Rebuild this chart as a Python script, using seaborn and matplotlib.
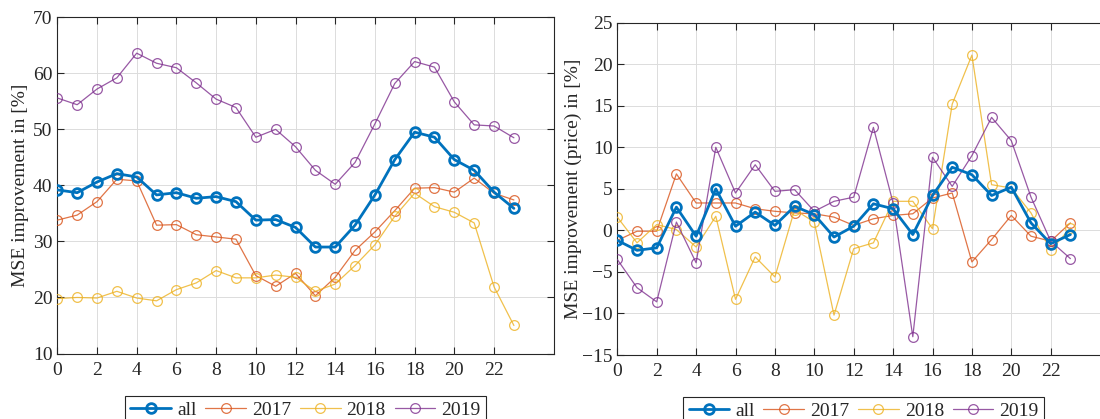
import matplotlib
matplotlib.use("Agg")
import matplotlib.pyplot as plt
import seaborn as sns
import pandas as pd

hours = list(range(24))
series_names = ["all", "2017", "2018", "2019"]
x_ticks = list(range(0, 23, 2))

mse_all = [39.2, 38.7, 40.6, 42.1, 41.5, 38.3, 38.7, 37.7, 38.0, 37.1, 33.8, 33.9,
           32.5, 29.0, 29.0, 32.9, 38.3, 44.6, 49.5, 48.6, 44.6, 42.7, 38.8, 35.9]
mse_2017 = [33.8, 34.7, 37.1, 41.1, 40.8, 32.9, 33.0, 31.2, 30.8, 30.4, 23.9, 22.0,
            24.3, 20.3, 23.6, 28.4, 31.7, 35.5, 39.5, 39.6, 38.8, 41.3, 38.6, 37.4]
mse_2018 = [19.8, 20.0, 19.9, 21.1, 19.9, 19.4, 21.4, 22.6, 24.8, 23.5, 23.5, 24.0,
            23.6, 21.1, 22.4, 25.7, 29.4, 34.5, 38.6, 36.2, 35.2, 33.3, 21.9, 15.0]
mse_2019 = [55.6, 54.4, 57.2, 59.2, 63.6, 61.8, 61.0, 58.3, 55.4, 53.9, 48.6, 50.0,
            46.9, 42.7, 40.2, 44.1, 51.0, 58.2, 62.1, 61.1, 54.9, 50.8, 50.6, 48.5]

price_all = [-1.2, -2.4, -2.1, 2.8, -0.7, 5.0, 0.5, 2.2, 0.6, 2.9, 1.9, -0.8,
             0.5, 3.2, 2.6, -0.5, 4.2, 7.6, 6.7, 4.2, 5.2, 0.9, -1.6, -0.5]
price_2017 = [-1.2, -0.1, -0.1, 6.8, 3.3, 3.3, 3.3, 2.6, 2.3, 2.1, 2.0, 1.6,
              0.6, 1.4, 1.8, 2.0, 3.9, 4.5, -3.8, -1.1, 1.8, -0.7, -1.3, 0.9]
price_2018 = [1.6, -1.5, 0.7, 0.1, -2.0, 1.7, -8.3, -3.2, -5.6, 2.5, 1.0, -10.2,
              -2.2, -1.5, 3.5, 3.5, 0.2, 15.2, 21.1, 5.5, 5.1, 2.1, -2.4, 0.3]
price_2019 = [-3.5, -6.9, -8.6, 1.0, -3.9, 10.0, 4.5, 7.9, 4.7, 4.9, 2.3, 3.5,
              4.0, 12.4, 3.3, -12.8, 8.8, 5.3, 9.0, 13.6, 10.8, 4.0, -1.3, -3.4]

colors = {"all": "#0072BD", "2017": "#D95319", "2018": "#EDB120", "2019": "#7E2F8E"}
ink = "#262626"

sns.set_style("ticks")
plt.rcParams["font.family"] = ["Liberation Serif", "DejaVu Serif"]
plt.rcParams["text.color"] = ink
plt.rcParams["axes.labelcolor"] = ink
plt.rcParams["xtick.color"] = ink
plt.rcParams["ytick.color"] = ink

W, H = 1100, 419
fig = plt.figure(figsize=(W / 100, H / 100), dpi=100)
ax1 = fig.add_axes([57.3 / W, 1 - 353.5 / H, 496.3 / W, 336.2 / H])
ax2 = fig.add_axes([617.3 / W, 1 - 355.0 / H, 492.5 / W, 332.3 / H])

panels = [
    (ax1, [mse_all, mse_2017, mse_2018, mse_2019], (10, 70), range(10, 71, 10),
     "MSE improvement in [%]", -0.058),
    (ax2, [price_all, price_2017, price_2018, price_2019], (-15, 25), range(-15, 26, 5),
     "MSE improvement (price) in [%]", -0.071),
]

for ax, data, ylim, yticks, ylabel, lx in panels:
    for name, vals in zip(series_names, data):
        c = colors[name]
        is_all = name == "all"
        df = pd.DataFrame({"hour": hours, "val": vals})
        sns.lineplot(data=df, x="hour", y="val", ax=ax, color=c,
                     linewidth=2.0 if is_all else 0.9,
                     marker="o", markersize=7,
                     markerfacecolor="none", markeredgecolor=c,
                     markeredgewidth=2.0 if is_all else 0.9,
                     alpha=1.0 if is_all else 0.8,
                     label=name, zorder=5 if is_all else 3)
    ax.set_xlim(0, 25)
    ax.set_ylim(*ylim)
    ax.set_xticks(x_ticks)
    ax.set_yticks(list(yticks))
    ax.grid(True, color="#dcdcdc", linewidth=0.7)
    ax.set_axisbelow(True)
    for sp in ax.spines.values():
        sp.set_visible(True)
        sp.set_color(ink)
        sp.set_linewidth(0.8)
    ax.tick_params(direction="in", top=True, right=True, length=5, width=0.8,
                   labelsize=14, color=ink)
    ax.tick_params(axis="x", pad=6)
    ax.tick_params(axis="y", pad=3.5)
    ax.set_xlabel("")
    ax.set_ylabel(ylabel, fontsize=14)
    ax.yaxis.set_label_coords(lx, 0.5)
    handles, labels = ax.get_legend_handles_labels()
    leg = ax.legend(handles, labels, loc="upper center", bbox_to_anchor=(0.5, -0.125),
                    ncol=4, frameon=True, fancybox=False, edgecolor=ink,
                    framealpha=1, fontsize=14, handlelength=2.1,
                    columnspacing=0.45, handletextpad=0.3, borderpad=0.3,
                    borderaxespad=0)
    leg.get_frame().set_linewidth(0.8)

fig.savefig("out.png", dpi=100)
